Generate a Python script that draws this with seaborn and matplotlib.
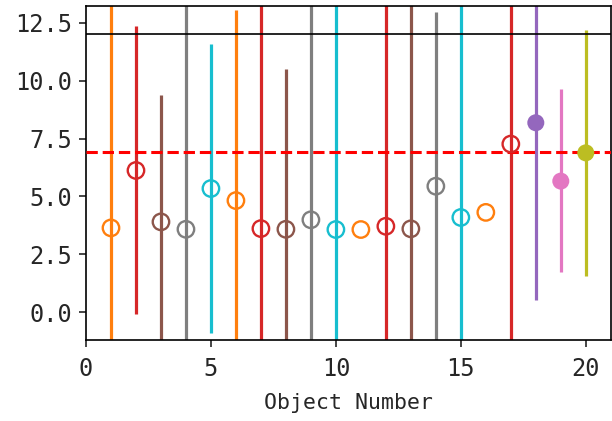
import numpy as np
import pandas as pd
import seaborn as sns
import matplotlib
matplotlib.use("Agg")
import matplotlib.pyplot as plt

# Data
obj = [1, 2, 3, 4, 5, 6, 7, 8, 9, 10, 11, 12, 13, 14, 15, 16, 17, 18, 19, 20]
value = [3.64, 6.12, 3.90, 3.58, 5.34, 4.82, 3.61, 3.58, 3.99, 3.57,
         3.57, 3.71, 3.60, 5.44, 4.09, 4.31, 7.26, 8.18, 5.66, 6.88]
lower = [-5.0, -0.09, -5.0, -5.0, -0.88, -5.0, -5.0, -5.0, -5.0, -5.0,
         3.57, -5.0, -5.0, -5.0, -5.0, 4.31, -5.0, 0.52, 1.73, 1.58]
upper = [20.0, 12.35, 9.36, 20.0, 11.59, 13.03, 20.0, 10.51, 20.0, 20.0,
         3.57, 20.0, 20.0, 12.97, 20.0, 4.31, 20.0, 20.0, 9.62, 12.19]
colors = ["#ff7f0e", "#d62728", "#8c564b", "#7f7f7f", "#17becf",
          "#ff7f0e", "#d62728", "#8c564b", "#7f7f7f", "#17becf",
          "#ff7f0e", "#d62728", "#8c564b", "#7f7f7f", "#17becf",
          "#ff7f0e", "#d62728", "#9467bd", "#e377c2", "#bcbd22"]
filled = [False] * 17 + [True] * 3
ref_line = 12.0
mean_line = 6.9
x_label = "Object Number"

df = pd.DataFrame({"obj": obj, "value": value, "lower": lower, "upper": upper,
                   "color": colors, "filled": filled})

sns.set_theme(style="ticks")
plt.rcParams["font.family"] = ["DejaVu Sans Mono", "DejaVu Sans"]

fig = plt.figure(figsize=(6.12, 4.21), dpi=100)
ax = fig.add_axes([0.1405, 0.1924, 0.8575, 0.7933])

ax.vlines(df["obj"], df["lower"], df["upper"], colors=df["color"], linewidth=2.3, zorder=2)
ax.axhline(ref_line, color="black", linewidth=1.2, zorder=3)
ax.axhline(mean_line, color="red", linestyle="--", linewidth=2.2, zorder=3)

open_df = df[~df["filled"]]
fill_df = df[df["filled"]]
pal_open = dict(zip(open_df["obj"], open_df["color"]))
pal_fill = dict(zip(fill_df["obj"], fill_df["color"]))

sns.scatterplot(data=open_df, x="obj", y="value", hue="obj", palette=pal_open,
                s=140, linewidth=0, legend=False, ax=ax, zorder=4)
coll = ax.collections[-1]
fcs = coll.get_facecolors()
coll.set_edgecolors(fcs)
coll.set_facecolors("none")
coll.set_linewidths(1.7)

sns.scatterplot(data=fill_df, x="obj", y="value", hue="obj", palette=pal_fill,
                s=150, linewidth=0, legend=False, ax=ax, zorder=4)

ax.set_xlim(0, 21)
ax.set_ylim(-1.2, 13.22)
ax.set_xticks([0, 5, 10, 15, 20])
ax.set_yticks([0, 2.5, 5, 7.5, 10, 12.5])
ax.set_yticklabels(["0.0", "2.5", "5.0", "7.5", "10.0", "12.5"])
ax.set_xlabel(x_label, fontsize=15.5, labelpad=9)
ax.set_ylabel("")
ax.tick_params(labelsize=17, width=1.2, length=5, pad=5)
ax.tick_params(axis="x", pad=7)
for sp in ax.spines.values():
    sp.set_visible(True)
    sp.set_linewidth(1.2)
    sp.set_color("black")

fig.savefig("out.png", dpi=100)
